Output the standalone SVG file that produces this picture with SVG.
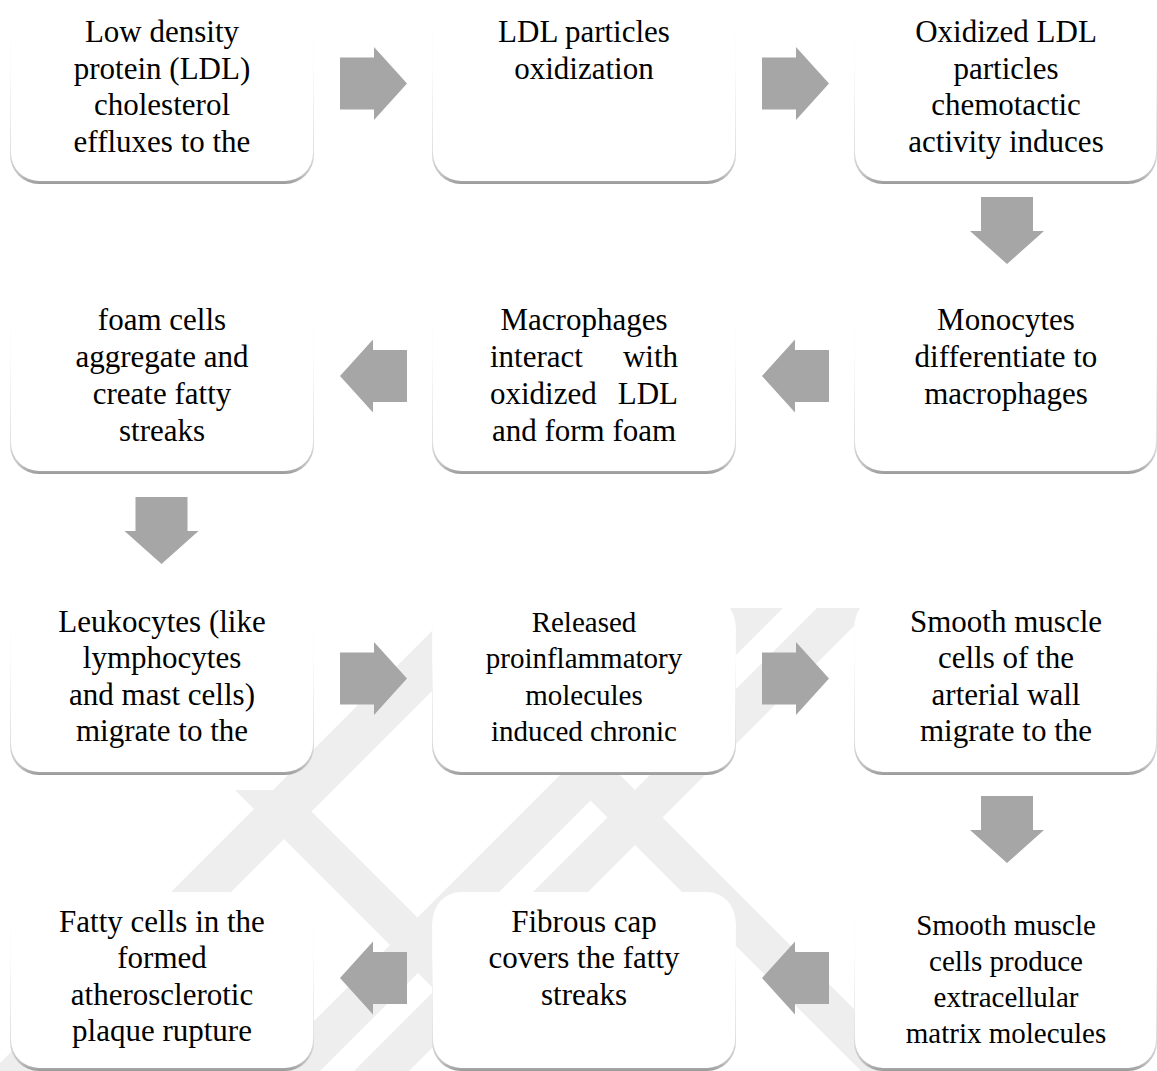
<svg xmlns="http://www.w3.org/2000/svg" width="1157" height="1071" viewBox="0 0 1157 1071">
<style>
.t{font-family:"Liberation Serif","Times New Roman",serif;font-size:31px;fill:#000;text-anchor:middle}
.box{fill:#fff}
.sh{fill:url(#shade)}
.arr{fill:#a6a6a6}
.wm{fill:#eeeeee}
</style>
<defs>
<linearGradient id="shade" x1="0" y1="0" x2="0" y2="1">
<stop offset="0" stop-color="#ffffff"/>
<stop offset="0.35" stop-color="#fbfbfb"/>
<stop offset="0.8" stop-color="#e2e2e2"/>
<stop offset="0.95" stop-color="#c2c2c2"/>
<stop offset="1" stop-color="#9a9a9a"/>
</linearGradient>
<clipPath id="wmclip"><rect x="0" y="608" width="1157" height="463"/></clipPath>
</defs>
<rect width="1157" height="1071" fill="#fff"/>
<g id="watermark" clip-path="url(#wmclip)">
<polygon class="wm" points="727,608 783,608 320,1071 264,1071"/>
<polygon class="wm" points="817,608 872,608 409,1071 354,1071"/>
<polygon class="wm" points="455,608 515,608 52,1071 -8,1071"/>
<polygon class="wm" points="560,770 615,770 916,1071 861,1071"/>
<polygon class="wm" points="235,790 290,790 571,1071 516,1071"/>
</g>
<g id="connectors">
<polygon class="arr" points="340,57.5 374,57.5 374,47 407,83.5 374,120 374,109.5 340,109.5"/>
<polygon class="arr" points="762,57.5 796,57.5 796,47 829,83.5 796,120 796,109.5 762,109.5"/>
<polygon class="arr" points="981,197 1033,197 1033,231 1044,231 1007,264 970,231 981,231"/>
<polygon class="arr" points="762,376 795,339.5 795,350 829,350 829,402 795,402 795,412.5"/>
<polygon class="arr" points="340,376 373,339.5 373,350 407,350 407,402 373,402 373,412.5"/>
<polygon class="arr" points="135.5,497 187.5,497 187.5,531 198.5,531 161.5,564 124.5,531 135.5,531"/>
<polygon class="arr" points="340,652.5 374,652.5 374,642 407,678.5 374,715 374,704.5 340,704.5"/>
<polygon class="arr" points="762,652.5 796,652.5 796,642 829,678.5 796,715 796,704.5 762,704.5"/>
<polygon class="arr" points="981,796 1033,796 1033,830 1044,830 1007,863 970,830 981,830"/>
<polygon class="arr" points="762,978 795,941.5 795,952 829,952 829,1004 795,1004 795,1014.5"/>
<polygon class="arr" points="340,978 373,941.5 373,952 407,952 407,1004 373,1004 373,1014.5"/>
</g>
<g id="n1">
<rect class="sh" x="10" y="8" width="304" height="176" rx="29"/>
<rect class="box" x="11" y="5" width="302" height="176" rx="28"/>
<text class="t" x="162" y="42">Low density</text>
<text class="t" x="162" y="78.7">protein (LDL)</text>
<text class="t" x="162" y="115.3">cholesterol</text>
<text class="t" x="162" y="152">effluxes to the</text>
</g>
<g id="n2">
<rect class="sh" x="432" y="8" width="304" height="176" rx="29"/>
<rect class="box" x="433" y="5" width="302" height="176" rx="28"/>
<text class="t" x="584" y="42">LDL particles</text>
<text class="t" x="584" y="78.7">oxidization</text>
</g>
<g id="n3">
<rect class="sh" x="854" y="8" width="303" height="176" rx="29"/>
<rect class="box" x="855" y="5" width="301" height="176" rx="28"/>
<text class="t" x="1006" y="42">Oxidized LDL</text>
<text class="t" x="1006" y="78.7">particles</text>
<text class="t" x="1006" y="115.3">chemotactic</text>
<text class="t" x="1006" y="152">activity induces</text>
</g>
<g id="n4">
<rect class="sh" x="854" y="298" width="303" height="176" rx="29"/>
<rect class="box" x="855" y="295" width="301" height="176" rx="28"/>
<text class="t" x="1006" y="330">Monocytes</text>
<text class="t" x="1006" y="367">differentiate to</text>
<text class="t" x="1006" y="404">macrophages</text>
</g>
<g id="n5">
<rect class="sh" x="432" y="298" width="304" height="176" rx="29"/>
<rect class="box" x="433" y="295" width="302" height="176" rx="28"/>
<text class="t" x="584" y="330">Macrophages</text>
<text class="t" x="490" y="367" style="text-anchor:start">interact</text>
<text class="t" x="678" y="367" style="text-anchor:end">with</text>
<text class="t" x="490" y="404" style="text-anchor:start">oxidized</text>
<text class="t" x="678" y="404" style="text-anchor:end">LDL</text>
<text class="t" x="584" y="441">and form foam</text>
</g>
<g id="n6">
<rect class="sh" x="10" y="298" width="304" height="176" rx="29"/>
<rect class="box" x="11" y="295" width="302" height="176" rx="28"/>
<text class="t" x="162" y="330">foam cells</text>
<text class="t" x="162" y="367">aggregate and</text>
<text class="t" x="162" y="404">create fatty</text>
<text class="t" x="162" y="441">streaks</text>
</g>
<g id="n7">
<rect class="sh" x="10" y="599" width="304" height="176" rx="29"/>
<rect class="box" x="11" y="596" width="302" height="176" rx="28"/>
<text class="t" x="162" y="631.5">Leukocytes (like</text>
<text class="t" x="162" y="668">lymphocytes</text>
<text class="t" x="162" y="704.5">and mast cells)</text>
<text class="t" x="162" y="741">migrate to the</text>
</g>
<g id="n8">
<rect class="sh" x="432" y="599" width="304" height="176" rx="29"/>
<rect class="box" x="433" y="596" width="302" height="176" rx="28"/>
<text class="t" x="584" y="631.5" style="font-size:29px">Released</text>
<text class="t" x="584" y="668" style="font-size:29px">proinflammatory</text>
<text class="t" x="584" y="704.5" style="font-size:29px">molecules</text>
<text class="t" x="584" y="741" style="font-size:29px">induced chronic</text>
</g>
<g id="n9">
<rect class="sh" x="854" y="599" width="303" height="176" rx="29"/>
<rect class="box" x="855" y="596" width="301" height="176" rx="28"/>
<text class="t" x="1006" y="631.5">Smooth muscle</text>
<text class="t" x="1006" y="668">cells of the</text>
<text class="t" x="1006" y="704.5">arterial wall</text>
<text class="t" x="1006" y="741">migrate to the</text>
</g>
<g id="n10">
<rect class="sh" x="854" y="895" width="303" height="176" rx="29"/>
<rect class="box" x="855" y="892" width="301" height="176" rx="28"/>
<text class="t" x="1006" y="935" style="font-size:29px">Smooth muscle</text>
<text class="t" x="1006" y="971" style="font-size:29px">cells produce</text>
<text class="t" x="1006" y="1007" style="font-size:29px">extracellular</text>
<text class="t" x="1006" y="1043" style="font-size:29px">matrix molecules</text>
</g>
<g id="n11">
<rect class="sh" x="432" y="895" width="304" height="176" rx="29"/>
<rect class="box" x="433" y="892" width="302" height="176" rx="28"/>
<text class="t" x="584" y="931.5">Fibrous cap</text>
<text class="t" x="584" y="968">covers the fatty</text>
<text class="t" x="584" y="1004.5">streaks</text>
</g>
<g id="n12">
<rect class="sh" x="10" y="895" width="304" height="176" rx="29"/>
<rect class="box" x="11" y="892" width="302" height="176" rx="28"/>
<text class="t" x="162" y="931.5">Fatty cells in the</text>
<text class="t" x="162" y="968">formed</text>
<text class="t" x="162" y="1004.5">atherosclerotic</text>
<text class="t" x="162" y="1041">plaque rupture</text>
</g>
</svg>
